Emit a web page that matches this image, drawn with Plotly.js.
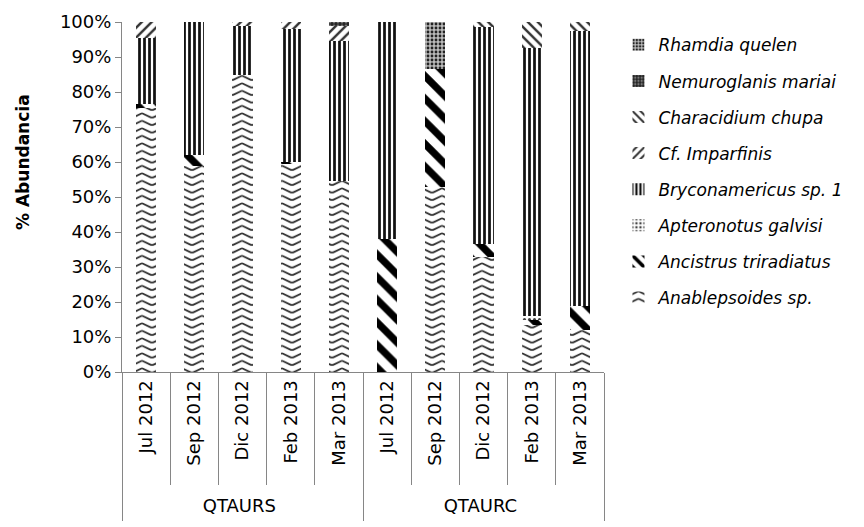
<!DOCTYPE html>
<html>
<head>
<meta charset="utf-8">
<script src="https://cdn.plot.ly/plotly-3.0.1.min.js"></script>
<style>
html,body{margin:0;padding:0;background:#fff;}
#chart{width:864px;height:527px;}
</style>
</head>
<body>
<div id="chart"></div>
<script>
const groups = ['QTAURS','QTAURS','QTAURS','QTAURS','QTAURS','QTAURC','QTAURC','QTAURC','QTAURC','QTAURC'];
const months = ['Jul 2012','Sep 2012','Dic 2012','Feb 2013','Mar 2013','Jul 2012','Sep 2012','Dic 2012','Feb 2013','Mar 2013'];

const anablepsoides = [75.5, 59, 85, 59.5, 54.5, 0, 53, 33, 13.5, 12];
const ancistrus     = [1, 3, 0, 0.5, 0, 38, 33.5, 3.5, 1.5, 7];
const apteronotus   = [0, 0, 0, 0, 0, 0, 0, 0, 1, 0];
const bryconamericus= [19, 38, 14, 38, 40, 62, 0, 62, 76.5, 78.5];
const imparfinis    = [4.5, 0, 1, 2, 4.5, 0, 0, 0, 0, 0];
const characidium   = [0, 0, 0, 0, 0, 0, 0, 1.5, 7.5, 2.5];
const nemuroglanis  = [0, 0, 0, 0, 1, 0, 0, 0, 0, 0];
const rhamdia       = [0, 0, 0, 0, 0, 0, 13.5, 0, 0, 0];

const seriesNames = ['Anablepsoides sp.','Ancistrus triradiatus','Apteronotus galvisi','Bryconamericus sp. 1','Cf. Imparfinis','Characidium chupa','Nemuroglanis mariai','Rhamdia quelen'];
const seriesValues = [anablepsoides, ancistrus, apteronotus, bryconamericus, imparfinis, characidium, nemuroglanis, rhamdia];
const patterns = [
  {shape:'x', fgcolor:'#222', bgcolor:'#fff', size:8, solidity:0.2},
  {shape:'\\', fgcolor:'#000', bgcolor:'#fff', size:16, solidity:0.45},
  {shape:'.', fgcolor:'#444', bgcolor:'#fff', size:5, solidity:0.3},
  {shape:'|', fgcolor:'#111', bgcolor:'#fff', size:5, solidity:0.55},
  {shape:'/', fgcolor:'#333', bgcolor:'#fff', size:7, solidity:0.35},
  {shape:'\\', fgcolor:'#333', bgcolor:'#fff', size:7, solidity:0.35},
  {shape:'+', fgcolor:'#111', bgcolor:'#777', size:4, solidity:0.5},
  {shape:'.', fgcolor:'#222', bgcolor:'#bbb', size:4, solidity:0.4}
];

const FONT = '"DejaVu Sans", sans-serif';

const traces = seriesNames.map((n,i)=>({
  type:'bar',
  name:n,
  x:[groups, months],
  y:seriesValues[i],
  legendgroup:'g'+i,
  legendrank: 100 - i,
  marker:{color:'#fff', line:{width:0}, pattern:patterns[i]},
  hoverinfo:'skip'
}));

const layout = {
  width:864, height:527,
  margin:{l:122, r:260, t:22, b:155},
  barmode:'stack',
  bargap:0.58,
  paper_bgcolor:'#fff', plot_bgcolor:'#fff',
  font:{family:FONT, size:18, color:'#000'},
  showlegend:true,
  legend:{
    x:1.03, xanchor:'left', y:0.985, yanchor:'top',
    traceorder:'grouped', tracegroupgap:11,
    font:{family:FONT, size:17, style:'italic', color:'#000'},
    itemwidth:30
  },
  xaxis:{
    type:'multicategory',
    showline:true, linecolor:'#868686', linewidth:1,
    ticks:'outside', tickson:'boundaries', ticklen:112, tickcolor:'#868686',
    tickangle:-90,
    showdividers:true, dividercolor:'#868686', dividerwidth:1,
    tickfont:{family:FONT, size:18, color:'#000'},
    showgrid:false
  },
  yaxis:{
    range:[0,100], dtick:10, ticksuffix:'%',
    showline:true, linecolor:'#868686', linewidth:1,
    ticks:'outside', ticklen:6, tickcolor:'#868686',
    showgrid:false, zeroline:false,
    tickfont:{family:FONT, size:18, color:'#000'}
  },
  annotations:[{
    text:'<b>% Abundancia</b>', textangle:-90,
    xref:'paper', yref:'paper', x:0, y:0.60, xanchor:'center', yanchor:'middle',
    xshift:-99, showarrow:false,
    font:{family:FONT, size:17, color:'#000'}
  }]
};

function applyTweaks(gd){
  const svg = gd.querySelector('.main-svg');
  const NS = 'http://www.w3.org/2000/svg';
  let defs = svg.querySelector('defs');
  if (!svg.querySelector('#wavePat')) {
    const pat = document.createElementNS(NS,'pattern');
    pat.setAttribute('id','wavePat');
    pat.setAttribute('patternUnits','userSpaceOnUse');
    pat.setAttribute('width','20');
    pat.setAttribute('height','7.5');
    const r = document.createElementNS(NS,'rect');
    r.setAttribute('width','20'); r.setAttribute('height','7.5'); r.setAttribute('fill','#fff');
    const p = document.createElementNS(NS,'path');
    p.setAttribute('d','M0,1.2 L8,5 Q10,6 12,5 L20,1.2');
    p.setAttribute('stroke','#2a2a2a'); p.setAttribute('stroke-width','1.8'); p.setAttribute('fill','none');
    pat.appendChild(r); pat.appendChild(p); defs.appendChild(pat);
  }
  const barTraces = svg.querySelectorAll('.barlayer .trace');
  if (barTraces[0]) barTraces[0].querySelectorAll('path').forEach(el=>{ el.style.fill='url(#wavePat)'; });
  document.querySelectorAll('.legend .traces').forEach(t=>{
    const tx = t.querySelector('.legendtext');
    if (tx && tx.textContent.indexOf('Anablepsoides')===0) {
      t.querySelectorAll('.legendpoints path').forEach(el=>{ el.style.fill='url(#wavePat)'; });
    }
  });
  // push the group labels down a little and lengthen the group dividers
  if (!gd._tweaked) {
    gd._tweaked = true;
    gd.querySelectorAll('.xtick2 text').forEach(el=>{
      const tr = el.getAttribute('transform') || '';
      el.setAttribute('transform', 'translate(0,12) ' + tr);
    });
    gd.querySelectorAll('path.xdivider').forEach(el=>{
      const d = el.getAttribute('d') || '';
      el.setAttribute('d', d.replace(/v(-?[\d.]+)/, (m,v)=>'v'+(parseFloat(v)+16)));
    });
  }
}

Plotly.newPlot('chart', traces, layout, {displayModeBar:false, staticPlot:true}).then(gd=>{
  applyTweaks(gd);
  setTimeout(()=>applyTweaks(gd), 50);
});
</script>
</body>
</html>
